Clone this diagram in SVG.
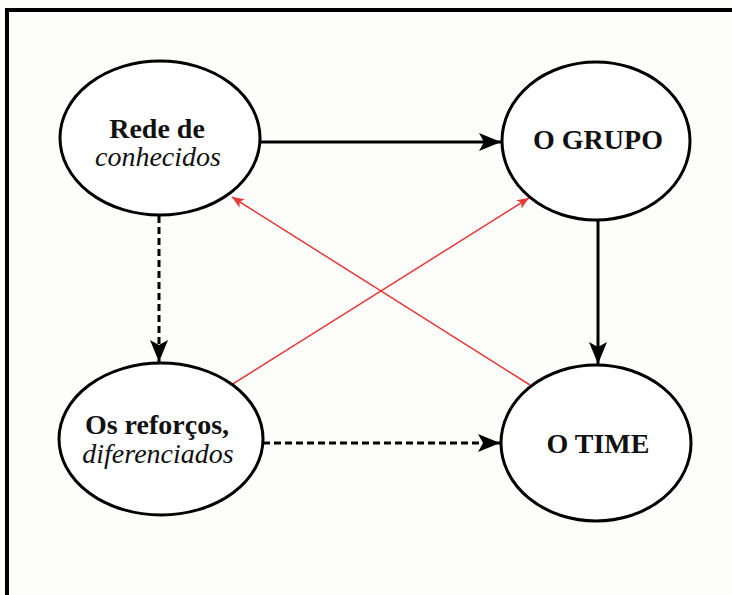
<svg xmlns="http://www.w3.org/2000/svg" width="732" height="595" viewBox="0 0 732 595">
<defs>
<style>
.node{fill:#fff;stroke:#000;stroke-width:3}
.t{font-family:"Liberation Serif","Times New Roman",serif;font-size:28px;fill:#111;text-anchor:middle}
.b{font-weight:bold}
.i{font-style:italic}
.blk{stroke:#000;stroke-width:3;fill:none}
.dash{stroke-dasharray:7 4}
.red{stroke:#e53935;stroke-width:1.5;fill:none}
</style>
<marker id="ah" markerUnits="userSpaceOnUse" markerWidth="24" markerHeight="20" refX="22" refY="9" orient="auto">
<path d="M0,0 L22,9 L0,18 L5,9 Z" fill="#000"/>
</marker>
<marker id="ahr" markerUnits="userSpaceOnUse" markerWidth="14" markerHeight="10" refX="12" refY="5" orient="auto">
<path d="M0,0 L12,5 L0,10 L3,5 Z" fill="#e53935"/>
</marker>
</defs>
<rect x="0" y="0" width="732" height="595" fill="#fdfdfb"/>
<rect x="7" y="10" width="740" height="600" fill="none" stroke="#000" stroke-width="4"/>
<g id="connectors">
<line class="blk" x1="260" y1="142" x2="501" y2="142" marker-end="url(#ah)"/>
<line class="blk" x1="598" y1="220" x2="598" y2="364" marker-end="url(#ah)"/>
<line class="blk dash" x1="159" y1="216" x2="159" y2="362" marker-end="url(#ah)"/>
<line class="blk dash" x1="263" y1="443" x2="500" y2="443" marker-end="url(#ah)"/>
<line class="red" x1="228" y1="387" x2="529" y2="198" marker-end="url(#ahr)"/>
<line class="red" x1="530" y1="385" x2="232" y2="197" marker-end="url(#ahr)"/>
</g>
<g id="node-rede">
<ellipse class="node" cx="160" cy="138" rx="100" ry="77"/>
<text class="t b" x="157" y="138">Rede de</text>
<text class="t i" x="158" y="166">conhecidos</text>
</g>
<g id="node-grupo">
<ellipse class="node" cx="596" cy="141" rx="94" ry="79"/>
<text class="t b" x="598" y="149">O GRUPO</text>
</g>
<g id="node-reforcos">
<ellipse class="node" cx="161" cy="439" rx="102" ry="76"/>
<text class="t b" x="157" y="434">Os reforços,</text>
<text class="t i" x="158" y="463">diferenciados</text>
</g>
<g id="node-time">
<ellipse class="node" cx="596" cy="443" rx="95" ry="78"/>
<text class="t b" x="598" y="453">O TIME</text>
</g>
</svg>
